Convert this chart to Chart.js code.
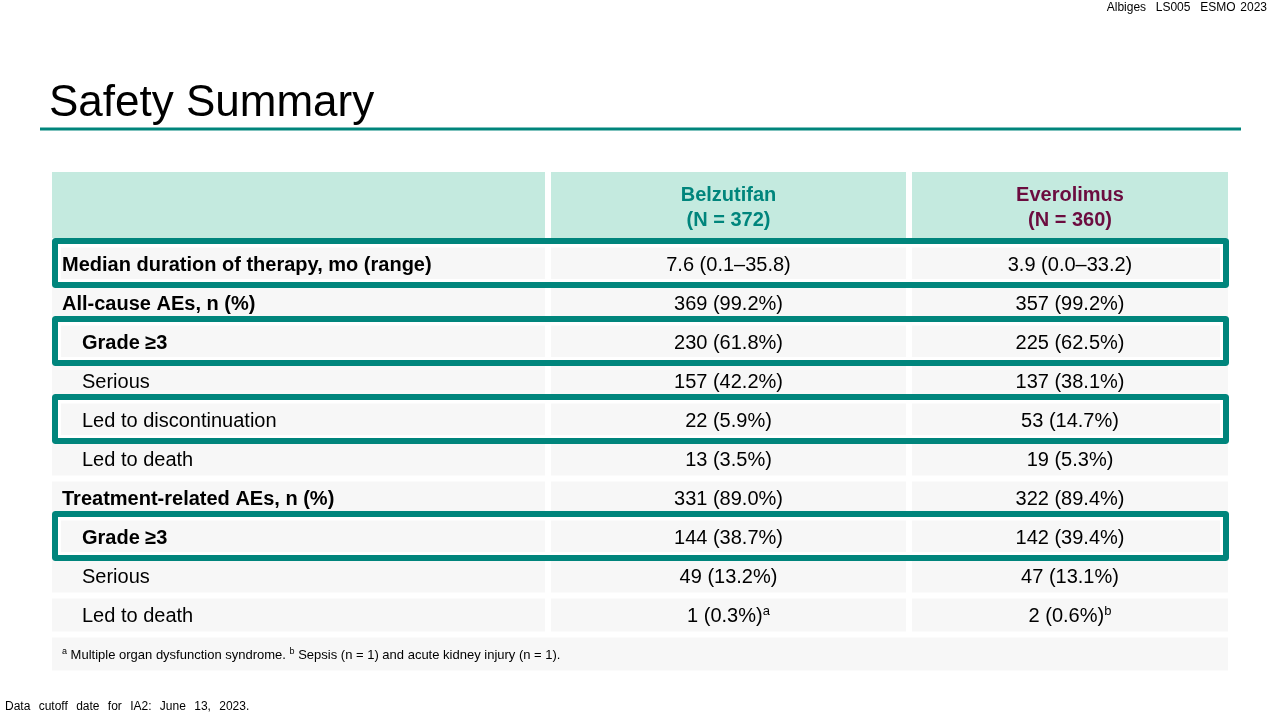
<!doctype html>
<html lang="en">
<head>
    <meta charset="UTF-8"/>
    <title>Safety Summary</title>
    <script src="https://cdn.jsdelivr.net/npm/chart.js@4/dist/chart.umd.min.js"></script>
    <style>
        html, body { margin: 0; padding: 0; background: #fff; }
        canvas { display: block; }
    </style>
</head>
<body>
<canvas id="safetyTable" width="1280" height="720"></canvas>

<script>
    // Table content
    const rowLabels = [
        'Median duration of therapy, mo (range)',
        'All-cause AEs, n (%)',
        'Grade ≥3',
        'Serious',
        'Led to discontinuation',
        'Led to death',
        'Treatment-related AEs, n (%)',
        'Grade ≥3',
        'Serious',
        'Led to death'
    ];
    const rowIndent = [0, 0, 1, 1, 1, 1, 0, 1, 1, 1];
    const rowBold = [1, 1, 1, 0, 0, 0, 1, 1, 0, 0];
    const belzutifanValues = ['7.6 (0.1–35.8)', '369 (99.2%)', '230 (61.8%)', '157 (42.2%)', '22 (5.9%)',
        '13 (3.5%)', '331 (89.0%)', '144 (38.7%)', '49 (13.2%)', '1 (0.3%)'];
    const belzutifanNotes = ['', '', '', '', '', '', '', '', '', 'a'];
    const everolimusValues = ['3.9 (0.0–33.2)', '357 (99.2%)', '225 (62.5%)', '137 (38.1%)', '53 (14.7%)',
        '19 (5.3%)', '322 (89.4%)', '142 (39.4%)', '47 (13.1%)', '2 (0.6%)'];
    const everolimusNotes = ['', '', '', '', '', '', '', '', '', 'b'];
    const armNames = ['Belzutifan', 'Everolimus'];
    const armN = ['(N = 372)', '(N = 360)'];
    const highlightedRows = [0, 2, 4, 7];
    const footnoteParts = [
        {sup: 'a', text: ' Multiple organ dysfunction syndrome. '},
        {sup: 'b', text: ' Sepsis (n = 1) and acute kidney injury (n = 1).'}
    ];

    // Layout (pixel units of the x / y scales)
    const colEdges = [[52, 545], [551, 906], [912, 1228]];
    const headerTop = 172, headerBottom = 238;
    const firstRowCenter = 264, rowPitch = 39, rowHeight = 33;
    const teal = '#00857C', berry = '#6B0C3F', mint = '#C4EADF', cellGrey = '#F7F7F7';
    const font = '"Liberation Sans", Arial, sans-serif';

    const rowCenter = (i) => firstRowCenter + i * rowPitch;

    const headerCells = colEdges.map((c) => ({x: c, y: (headerTop + headerBottom) / 2}));
    const bodyCells = [];
    rowLabels.forEach((_, i) => colEdges.forEach((c) => bodyCells.push({x: c, y: rowCenter(i)})));
    const footCells = [{x: [colEdges[0][0], colEdges[2][1]], y: rowCenter(rowLabels.length)}];
    const boxes = highlightedRows.map((i) => ({x: [colEdges[0][0], colEdges[2][1] + 1], y: rowCenter(i) - 1}));
    const boxesInner = highlightedRows.map((i) => ({x: [colEdges[0][0] + 6, colEdges[2][1] - 5], y: rowCenter(i) - 1}));

    const cellDataset = (data, color, thickness, order) => ({
        data: data,
        backgroundColor: color,
        borderWidth: 0,
        barThickness: thickness,
        inflateAmount: 0,
        grouped: false,
        order: order
    });

    // Texts drawn on top of the cells
    const tableText = {
        id: 'tableText',
        afterDatasetsDraw(chart) {
            const ctx = chart.ctx;
            const xs = chart.scales.x, ys = chart.scales.y;
            const px = (v) => xs.getPixelForValue(v);
            const py = (v) => ys.getPixelForValue(v);
            ctx.save();
            ctx.textBaseline = 'middle';

            // top right reference
            ctx.font = `12px ${font}`;
            ctx.fillStyle = '#000';
            ctx.textAlign = 'right';
            ctx.wordSpacing = '1.5px';
            ctx.fillText('Albiges  LS005  ESMO 2023', px(1267), py(8));

            // title
            ctx.wordSpacing = '0px';
            ctx.textAlign = 'left';
            ctx.textBaseline = 'alphabetic';
            ctx.font = `44px ${font}`;
            ctx.fillText('Safety Summary', px(49), py(116));
            ctx.fillStyle = teal;
            ctx.fillRect(px(40), py(127.5), px(1241) - px(40), 3);

            // header
            ctx.textBaseline = 'middle';
            ctx.textAlign = 'center';
            ctx.font = `bold 20px ${font}`;
            [teal, berry].forEach((color, k) => {
                const cx = px((colEdges[k + 1][0] + colEdges[k + 1][1]) / 2);
                ctx.fillStyle = color;
                ctx.fillText(armNames[k], cx, py(195));
                ctx.fillText(armN[k], cx, py(220));
            });

            // body rows
            ctx.fillStyle = '#000';
            const drawValue = (text, note, col, y) => {
                const cx = px((colEdges[col][0] + colEdges[col][1]) / 2);
                ctx.font = `20px ${font}`;
                const w = ctx.measureText(text).width;
                ctx.font = `13px ${font}`;
                const wn = note ? ctx.measureText(note).width : 0;
                const x0 = cx - (w + wn) / 2;
                ctx.textAlign = 'left';
                ctx.font = `20px ${font}`;
                ctx.fillText(text, x0, y);
                if (note) {
                    ctx.font = `13px ${font}`;
                    ctx.fillText(note, x0 + w, y - 5);
                }
            };
            rowLabels.forEach((label, i) => {
                const y = py(rowCenter(i) + 1);
                ctx.textAlign = 'left';
                ctx.font = `${rowBold[i] ? 'bold ' : ''}20px ${font}`;
                ctx.fillText(label, px(rowIndent[i] ? 82 : 62), y);
                drawValue(belzutifanValues[i], belzutifanNotes[i], 1, y);
                drawValue(everolimusValues[i], everolimusNotes[i], 2, y);
            });

            // footnote
            let fx = px(62);
            const fy = py(rowCenter(rowLabels.length) + 1);
            ctx.textAlign = 'left';
            ctx.wordSpacing = '1.3px';
            footnoteParts.forEach((p) => {
                ctx.font = `9px ${font}`;
                ctx.fillText(p.sup, fx, fy - 3);
                fx += ctx.measureText(p.sup).width;
                ctx.font = `13px ${font}`;
                ctx.fillText(p.text, fx, fy);
                fx += ctx.measureText(p.text).width;
            });

            // data cutoff
            ctx.font = `12px ${font}`;
            ctx.wordSpacing = '5px';
            ctx.fillText('Data cutoff date for IA2: June 13, 2023.', px(5), py(707));
            ctx.restore();
        }
    };

    new Chart(document.getElementById('safetyTable').getContext('2d'), {
        type: 'bar',
        data: {
            datasets: [
                cellDataset(headerCells, mint, headerBottom - headerTop, 3),
                cellDataset(bodyCells, cellGrey, rowHeight, 3),
                cellDataset(footCells, cellGrey, rowHeight, 3),
                {
                    data: boxesInner,
                    backgroundColor: 'rgba(0,0,0,0)',
                    borderColor: '#fff',
                    borderWidth: 3,
                    borderSkipped: false,
                    barThickness: 38,
                    inflateAmount: 0,
                    grouped: false,
                    order: 2
                },
                {
                    data: boxes,
                    backgroundColor: 'rgba(0,0,0,0)',
                    borderColor: teal,
                    borderWidth: 6,
                    borderRadius: 3,
                    borderSkipped: false,
                    barThickness: 50,
                    inflateAmount: 0,
                    grouped: false,
                    order: 1
                }
            ]
        },
        plugins: [tableText],
        options: {
            indexAxis: 'y',
            responsive: false,
            animation: false,
            events: [],
            layout: {padding: 0},
            plugins: {
                legend: {display: false},
                tooltip: {enabled: false}
            },
            scales: {
                x: {type: 'linear', min: 0, max: 1280, offset: false, display: false},
                y: {type: 'linear', min: 0, max: 720, reverse: true, offset: false, display: false}
            }
        }
    });
</script>
</body>
</html>
